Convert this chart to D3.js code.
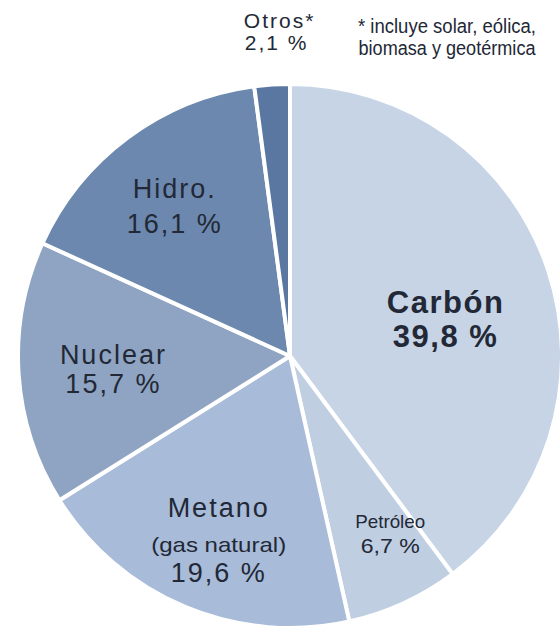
<!DOCTYPE html>
<html>
<head>
<meta charset="utf-8">
<script src="https://cdn.jsdelivr.net/npm/d3@7"></script>
<style>
  html, body { margin: 0; padding: 0; background: #fff; }
  svg { display: block; }
  text { font-family: "Liberation Sans", Arial, sans-serif; fill: #222836; }
</style>
</head>
<body>
<svg id="chart" width="560" height="632"></svg>
<script>
// Electricity generation by source (share, %)
const categories = ["Carbón", "Petróleo", "Metano", "Nuclear", "Hidro.", "Otros*"];
const values = [39.8, 6.7, 19.6, 15.7, 16.1, 2.1];
const valueLabels = ["39,8 %", "6,7 %", "19,6 %", "15,7 %", "16,1 %", "2,1 %"];
const subLabels = ["", "", "(gas natural)", "", "", ""];
const colors = ["#c6d4e5", "#c0cee2", "#a8bbd8", "#8fa4c2", "#6c88ae", "#5a77a2"];
const footnote = ["* incluye solar, eólica,", "biomasa y geotérmica"];

const svg = d3.select("#chart");
const cx = 290, cy = 356, R = 272;

const g = svg.append("g").attr("transform", `translate(${cx},${cy})`);

const pie = d3.pie().sort(null).value(d => d.value);
const rows = categories.map((c, i) => ({
  name: c, value: values[i], label: valueLabels[i], sub: subLabels[i], color: colors[i]
}));
const arcs = pie(rows);

const arc = d3.arc().innerRadius(0).outerRadius(R);

g.selectAll("path.slice")
  .data(arcs)
  .join("path")
  .attr("class", "slice")
  .attr("d", arc)
  .attr("fill", d => d.data.color)
  .attr("stroke", "#ffffff")
  .attr("stroke-width", 4)
  .attr("stroke-linejoin", "round");

// label anchor on an inner ring (outside ring for the thin slice), fine-tuned per slice
const labelArc = d3.arc().innerRadius(185).outerRadius(185);
const outerArc = d3.arc().innerRadius(325).outerRadius(325);
const nudge = {
  "Carbón": [-20, 15], "Petróleo": [23, 4], "Metano": [0, -10],
  "Nuclear": [8, -4], "Hidro.": [-5, -9], "Otros*": [11, -4]
};

// one text line, centred at x; condensed lines get a fixed width
function line(x, y, size, str, opts = {}) {
  const t = svg.append("text").attr("y", y).attr("font-size", size).text(str);
  if (opts.bold) t.attr("font-weight", "bold");
  if (opts.len) {
    t.attr("x", x - opts.len / 2).attr("text-anchor", "start")
     .attr("textLength", opts.len).attr("lengthAdjust", "spacingAndGlyphs");
  } else {
    t.attr("x", x).attr("text-anchor", "middle");
    if (opts.ls) t.attr("letter-spacing", opts.ls);
  }
  return t;
}

arcs.forEach(d => {
  const name = d.data.name;
  const base = name === "Otros*" ? outerArc.centroid(d) : labelArc.centroid(d);
  const [nx, ny] = nudge[name];
  const x = cx + base[0] + nx, y = cy + base[1] + ny;
  if (name === "Carbón") {
    line(x, y, 31, name, { bold: true, ls: 1.5 });
    line(x, y + 34, 31, d.data.label, { bold: true, ls: 1.5 });
  } else if (name === "Petróleo") {
    line(x, y, 19, name, { len: 70 });
    line(x, y + 25, 20, d.data.label, { len: 59 });
  } else if (name === "Metano") {
    line(x, y, 27, name, { ls: 2 });
    line(x, y + 35, 21, d.data.sub, { len: 135 });
    line(x, y + 65, 27, d.data.label, { ls: 2 });
  } else if (name === "Otros*") {
    line(x, y, 21, name, { ls: 2 });
    line(x - 3, y + 22, 21, d.data.label, { ls: 2 });
  } else if (name === "Hidro.") {
    line(x, y, 27, name, { ls: 2 });
    line(x, y + 35, 27, d.data.label, { ls: 2 });
  } else {
    line(x, y, 27, name, { ls: 2 });
    line(x, y + 29, 27, d.data.label, { ls: 2 });
  }
});

// footnote for the "Otros" category
const fnWidths = [178, 177];
footnote.forEach((str, i) => {
  line(447, 33 + i * 22, 20, str, { len: fnWidths[i] });
});
</script>
</body>
</html>
